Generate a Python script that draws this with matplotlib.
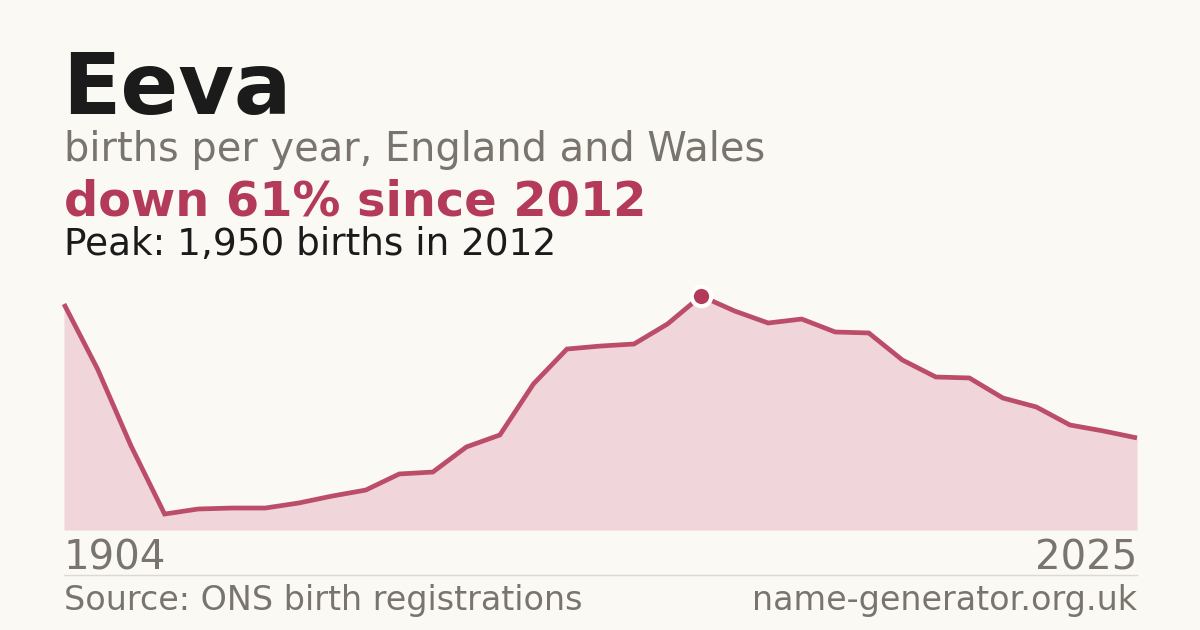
import matplotlib
matplotlib.use("Agg")
from matplotlib import pyplot as plt

# yearly births for the name
years = [1904, 1994, 1995, 1996, 1997, 1998, 1999, 2000, 2001, 2002, 2003,
         2004, 2005, 2006, 2007, 2008, 2009, 2010, 2011, 2012, 2013, 2014,
         2015, 2016, 2017, 2018, 2019, 2020, 2021, 2022, 2023, 2024, 2025]
births = [1883, 1342, 700, 133, 175, 183, 183, 225, 283, 333, 467,
          483, 692, 792, 1217, 1508, 1533, 1550, 1717, 1950, 1825, 1725,
          1758, 1650, 1642, 1417, 1275, 1267, 1100, 1025, 875, 825, 767]

peak_year = 2012
peak_value = 1950

BG = "#faf9f4"
RED = "#b43a5a"
LINE = "#bb4d69"
FILL = "#f0d5db"
GREY = "#7a746e"
DARK = "#1b1b1b"

W, H = 1200, 630
fig = plt.figure(figsize=(W / 100, H / 100), dpi=100, facecolor=BG)

# plot area in pixels: x 64..1137, y 296 (peak) .. 530 (zero)
ax = fig.add_axes([64 / W, (H - 530) / H, (1137 - 64) / W, (530 - 296) / H])
ax.set_facecolor(BG)
idx = list(range(len(years)))
ax.fill_between(idx, births, 0, color=FILL, lw=0)
ax.plot(idx, births, color=LINE, lw=3.4, solid_joinstyle="miter",
        solid_capstyle="butt", clip_on=False)
pk = years.index(peak_year)
ax.plot([pk], [peak_value], "o", ms=14, color=RED, mec="white", mew=3, clip_on=False, zorder=5)
ax.set_xlim(0, len(years) - 1)
ax.set_ylim(0, peak_value)
ax.axis("off")

def fx(px):
    return px / W

def fy(py):
    return 1 - py / H

fig.text(fx(62), fy(114), "Eeva", fontsize=61.5, fontweight="bold", color=DARK, va="baseline")
fig.text(fx(64), fy(161), "births per year, England and Wales", fontsize=28.7, color=GREY, va="baseline")
fig.text(fx(64), fy(215), f"down 61% since {peak_year}", fontsize=34.5, fontweight="bold", color=RED, va="baseline")
fig.text(fx(64), fy(255), f"Peak: {peak_value:,} births in {peak_year}", fontsize=26.9, color=DARK, va="baseline")

fig.text(fx(64), fy(570), str(years[0]), fontsize=29, color=GREY, va="baseline")
fig.text(fx(1137), fy(570), str(years[-1]), fontsize=29, color=GREY, va="baseline", ha="right")
fig.add_artist(plt.Line2D([fx(64), fx(1137)], [fy(575), fy(575)], color="#dcd9d2", lw=1))
fig.text(fx(64), fy(610), "Source: ONS birth registrations", fontsize=24, color=GREY, va="baseline")
fig.text(fx(1137), fy(610), "name-generator.org.uk", fontsize=24, color=GREY, va="baseline", ha="right")

fig.savefig("out.png", dpi=100, facecolor=BG)
